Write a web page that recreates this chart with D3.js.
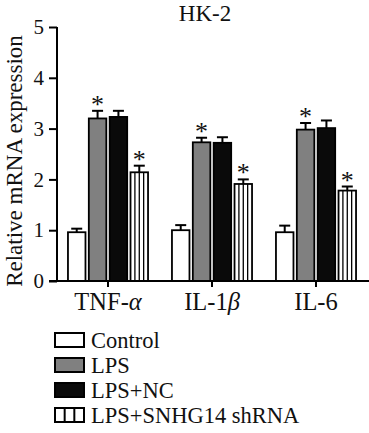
<!DOCTYPE html>
<html><head><meta charset="utf-8">
<script src="https://cdn.jsdelivr.net/npm/d3@7"></script>
<style>
html,body{margin:0;padding:0;background:#fff;}
svg{display:block;font-family:"Liberation Serif","Times New Roman",serif;}
</style></head>
<body><svg id="c" width="369" height="433"></svg>
<script>
const title = "HK-2";
const yLabel = "Relative mRNA expression";
const categories = ["TNF-α", "IL-1β", "IL-6"];
const series = ["Control", "LPS", "LPS+NC", "LPS+SNHG14 shRNA"];
const controlMean = [0.96, 1.00, 0.96];
const controlErr  = [0.07, 0.10, 0.13];
const lpsMean     = [3.20, 2.73, 2.98];
const lpsErr      = [0.15, 0.09, 0.13];
const ncMean      = [3.23, 2.72, 3.01];
const ncErr       = [0.12, 0.11, 0.15];
const shMean      = [2.14, 1.91, 1.78];
const shErr       = [0.13, 0.09, 0.08];
const significant = [[false,false,false],[true,true,true],[false,false,false],[true,true,true]];
const yTicks = [0,1,2,3,4,5];

const fills = ["#ffffff", "#808080", "#0a0a0a", "#ffffff"];
const hatched = [false,false,false,true];

const means = [controlMean, lpsMean, ncMean, shMean];
const errs = [controlErr, lpsErr, ncErr, shErr];

const svg = d3.select("#c");
const y = d3.scaleLinear().domain([0,5]).range([281,27]);
const x0 = d3.scaleBand().domain(categories).range([56,368]).paddingInner(0.23).paddingOuter(0.115);
const x1 = d3.scaleBand().domain(series).range([0, x0.bandwidth()]).paddingInner(0.16).paddingOuter(0);

const data = [];
categories.forEach((c,ci)=>series.forEach((s,si)=>data.push({c,s,si,v:means[si][ci],e:errs[si][ci],sig:significant[si][ci]})));

// title
svg.append("text").attr("x",205).attr("y",21).attr("text-anchor","middle")
  .attr("font-size",23).attr("fill","#111").text(title);

// y label
svg.append("text").attr("transform","translate(22,161) rotate(-90)").attr("text-anchor","middle")
  .attr("font-size",23).attr("fill","#111").text(yLabel);

// bars
const g = svg.append("g");
const bx = d=>x0(d.c)+x1(d.s);
g.selectAll("rect.bar").data(data).join("rect").attr("class","bar")
  .attr("x",bx).attr("width",x1.bandwidth())
  .attr("y",d=>y(d.v)).attr("height",d=>y(0)-y(d.v))
  .attr("fill",d=>fills[d.si]).attr("stroke","#000").attr("stroke-width",1.8);

// hatch lines
data.filter(d=>hatched[d.si]).forEach(d=>{
  [0.25,0.5,0.75].forEach(f=>{
    const xx = bx(d)+x1.bandwidth()*f;
    g.append("line").attr("x1",xx).attr("x2",xx).attr("y1",y(d.v)).attr("y2",y(0))
      .attr("stroke","#000").attr("stroke-width",1.3);
  });
});

// error bars
const cx = d=>bx(d)+x1.bandwidth()/2;
g.selectAll("line.err").data(data).join("line").attr("class","err")
  .attr("x1",cx).attr("x2",cx).attr("y1",d=>y(d.v)).attr("y2",d=>y(d.v+d.e))
  .attr("stroke","#000").attr("stroke-width",2);
g.selectAll("line.cap").data(data).join("line").attr("class","cap")
  .attr("x1",d=>cx(d)-5.5).attr("x2",d=>cx(d)+5.5).attr("y1",d=>y(d.v+d.e)).attr("y2",d=>y(d.v+d.e))
  .attr("stroke","#000").attr("stroke-width",2);
g.selectAll("text.sig").data(data.filter(d=>d.sig)).join("text").attr("class","sig")
  .attr("x",cx).attr("y",d=>y(d.v+d.e)+2).attr("text-anchor","middle")
  .attr("font-size",26).attr("fill","#111").text("*");

// y axis
const ya = svg.append("g").attr("transform","translate(57,0)")
  .call(d3.axisLeft(y).tickValues(yTicks).tickSize(8).tickPadding(5).tickFormat(d3.format("d")));
ya.select(".domain").attr("d",`M0,${y(5)}V${y(0)}`).attr("stroke-width",2);
ya.selectAll(".tick line").attr("stroke-width",2);
ya.selectAll("text").attr("font-size",21).attr("font-family","Liberation Serif").attr("fill","#111");

// x axis
const xa = svg.append("g").attr("transform",`translate(0,${y(0)})`)
  .call(d3.axisBottom(x0).tickSize(6).tickPadding(6));
xa.select(".domain").attr("d","M49,0H369").attr("stroke-width",2);
xa.selectAll(".tick line").attr("stroke-width",2);
xa.selectAll(".tick text").remove();
xa.selectAll(".tick").append("text").attr("y",29).attr("text-anchor","middle")
  .attr("font-size",24.5).attr("font-family","Liberation Serif").attr("fill","#111")
  .each(function(d){
    const t = d3.select(this);
    const i = d.search(/[αβ]/);
    if(i>=0){ t.append("tspan").text(d.slice(0,i)); t.append("tspan").attr("font-style","italic").text(d.slice(i)); }
    else t.text(d);
  });

// legend
const lg = svg.append("g");
const rowY = [348,373,398,423];
series.forEach((s,i)=>{
  const top = rowY[i]-15;
  lg.append("rect").attr("x",55).attr("y",top).attr("width",29).attr("height",14)
    .attr("fill",fills[i]).attr("stroke","#000").attr("stroke-width",2);
  if(hatched[i]){
    [1/3,2/3].forEach(f=>lg.append("line").attr("x1",55+29*f).attr("x2",55+29*f)
      .attr("y1",top).attr("y2",top+14).attr("stroke","#000").attr("stroke-width",2));
  }
  lg.append("text").attr("x",91).attr("y",rowY[i]).attr("font-size",22.5).attr("fill","#111").text(s);
});
</script></body></html>
